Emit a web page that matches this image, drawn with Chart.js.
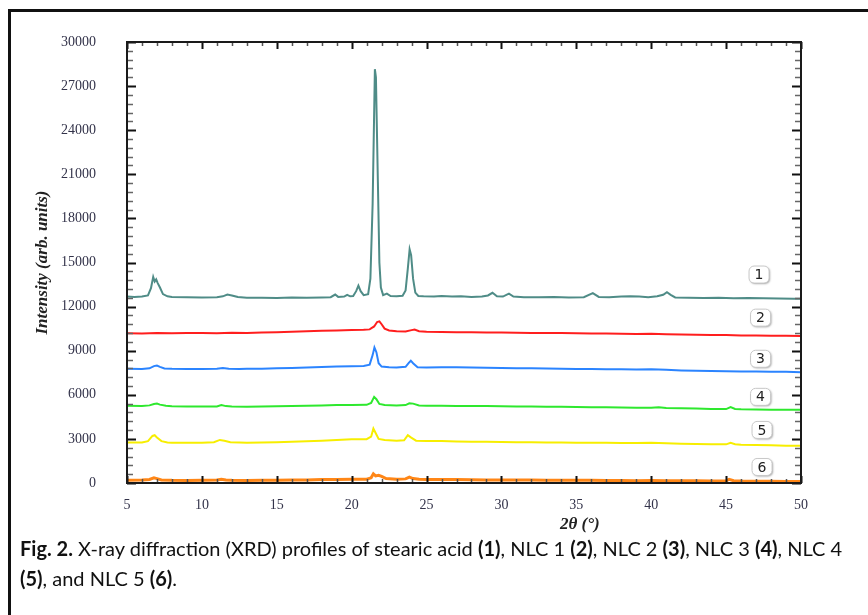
<!DOCTYPE html>
<html>
<head>
<meta charset="utf-8">
<script src="https://cdn.jsdelivr.net/npm/chart.js@4.4.1/dist/chart.umd.min.js"></script>
<style>
  html, body { margin: 0; padding: 0; background: #fff; overflow: hidden; }
  #frame { position: absolute; left: 8px; top: 9px; width: 880px; height: 640px; border-left: 3px solid #111; border-top: 3px solid #111; }
  #wrap { position: absolute; left: 0; top: 0; width: 868px; height: 615px; }
  #xtitle { position: absolute; left: 560px; top: 514px; font: italic bold 17px "Liberation Serif", serif; color: #222; }
  #caption { position: absolute; left: 20px; top: 533px; font: 20px Lato, sans-serif; line-height: 30px; color: #111; white-space: nowrap; }
</style>
</head>
<body>
<div id="frame"></div>
<div id="wrap"><canvas id="xrd"></canvas></div>
<div id="xtitle">2θ (°)</div>
<div id="caption"><b>Fig. 2.</b> X-ray diffraction (XRD) profiles of stearic acid <b>(1)</b>, NLC 1 <b>(2)</b>, NLC 2 <b>(3)</b>, NLC 3 <b>(4)</b>, NLC 4<br><b>(5)</b>, and NLC 5 <b>(6)</b>.</div>
<script>
// 2theta (deg) and intensity, one pair of arrays per sample
const angle1 = [5, 5.5, 6, 6.4, 6.6, 6.75, 6.85, 6.95, 7.05, 7.2, 7.4, 7.7, 8, 9, 10, 11, 11.4, 11.7, 12, 12.4, 13, 14, 15, 16, 17, 18, 18.6, 18.9, 19.1, 19.5, 19.7, 19.9, 20.1, 20.3, 20.45, 20.6, 20.8, 21.1, 21.25, 21.4, 21.55, 21.62, 21.75, 21.85, 21.95, 22.1, 22.35, 22.6, 23, 23.4, 23.6, 23.75, 23.87, 23.97, 24.1, 24.25, 24.45, 24.8, 25.5, 26, 26.7, 27.3, 28, 28.7, 29.1, 29.4, 29.7, 30.1, 30.5, 30.8, 31.5, 32.5, 33.5, 34.5, 35.5, 36.1, 36.5, 37.2, 38, 38.6, 39.2, 39.8, 40.4, 40.8, 41.05, 41.3, 41.6, 42.5, 43.5, 44.5, 45.5, 46.5, 47.5, 48.5, 49.5, 50];
const counts1 = [12680, 12650, 12690, 12760, 13250, 14020, 13700, 13850, 13600, 13300, 12850, 12700, 12660, 12640, 12620, 12640, 12700, 12820, 12760, 12650, 12600, 12610, 12590, 12620, 12600, 12620, 12640, 12820, 12660, 12680, 12800, 12700, 12720, 13050, 13420, 13050, 12780, 12850, 13900, 19000, 28150, 27600, 20500, 15000, 13300, 12780, 12880, 12720, 12700, 12740, 13100, 14600, 15900, 15500, 13900, 12950, 12720, 12700, 12680, 12720, 12690, 12700, 12660, 12680, 12760, 12940, 12700, 12680, 12880, 12680, 12640, 12630, 12650, 12620, 12640, 12920, 12660, 12640, 12680, 12700, 12690, 12640, 12700, 12800, 12980, 12800, 12620, 12600, 12590, 12600, 12570, 12580, 12560, 12550, 12540, 12530];

const angle2 = [5, 6, 7, 8, 9, 10, 11, 12, 13, 14, 15, 16, 17, 18, 19, 20, 20.8, 21.2, 21.5, 21.7, 21.85, 22.0, 22.2, 22.5, 23, 23.6, 24.0, 24.2, 24.5, 25, 26, 27, 28, 29, 30, 31, 32, 33, 34, 35, 36, 37, 38, 39, 40, 41, 42, 43, 44, 45, 46, 47, 48, 49, 50];
const counts2 = [10180, 10170, 10200, 10190, 10200, 10210, 10190, 10220, 10210, 10240, 10260, 10290, 10320, 10350, 10380, 10400, 10420, 10450, 10650, 10950, 11000, 10800, 10500, 10380, 10330, 10300, 10400, 10440, 10330, 10290, 10270, 10260, 10250, 10240, 10230, 10220, 10210, 10200, 10200, 10180, 10170, 10170, 10160, 10140, 10150, 10120, 10110, 10080, 10070, 10060, 10040, 10030, 10010, 10020, 10000];

const angle3 = [5, 6, 6.5, 6.8, 7, 7.2, 7.5, 8, 9, 10, 11, 11.4, 11.8, 12.5, 13, 14, 15, 16, 17, 18, 19, 20, 20.8, 21.2, 21.4, 21.52, 21.65, 21.8, 22.0, 22.5, 23, 23.6, 23.8, 23.95, 24.1, 24.4, 25, 26, 27, 28, 29, 30, 31, 32, 33, 34, 35, 36, 37, 38, 39, 40, 41, 42, 43, 44, 45, 46, 47, 48, 49, 50];
const counts3 = [7770, 7760, 7800, 7950, 7990, 7900, 7790, 7770, 7760, 7750, 7770, 7820, 7780, 7760, 7770, 7780, 7800, 7830, 7860, 7890, 7920, 7950, 7960, 8050, 8700, 9220, 8900, 8150, 7920, 7880, 7860, 7900, 8150, 8320, 8150, 7880, 7860, 7880, 7870, 7850, 7840, 7820, 7810, 7800, 7790, 7780, 7760, 7750, 7740, 7730, 7720, 7730, 7700, 7660, 7640, 7620, 7610, 7590, 7580, 7570, 7560, 7540];

const angle4 = [5, 6, 6.5, 6.8, 7, 7.2, 7.6, 8, 9, 10, 11, 11.3, 11.6, 12, 13, 14, 15, 16, 17, 18, 19, 20, 21, 21.3, 21.5, 21.65, 21.85, 22.2, 23, 23.6, 23.85, 24.1, 24.5, 25, 26, 27, 28, 29, 30, 31, 32, 33, 34, 35, 36, 37, 38, 39, 40, 40.5, 41, 42, 43, 44, 45, 45.3, 45.6, 46, 47, 48, 49, 50];
const counts4 = [5250, 5240, 5280, 5370, 5400, 5330, 5250, 5220, 5210, 5200, 5210, 5300, 5230, 5200, 5190, 5200, 5220, 5240, 5260, 5280, 5300, 5310, 5320, 5450, 5860, 5700, 5380, 5300, 5280, 5300, 5420, 5400, 5280, 5260, 5250, 5240, 5240, 5230, 5220, 5210, 5200, 5190, 5180, 5170, 5160, 5150, 5140, 5120, 5120, 5150, 5100, 5080, 5060, 5040, 5030, 5160, 5040, 5010, 5000, 4990, 4990, 4980];

const angle5 = [5, 6, 6.4, 6.7, 6.85, 7.0, 7.3, 7.7, 8, 9, 10, 10.8, 11.2, 11.5, 11.9, 12.5, 13, 14, 15, 16, 17, 18, 19, 20, 21, 21.3, 21.45, 21.6, 21.8, 22.2, 23, 23.5, 23.75, 23.95, 24.3, 25, 26, 27, 28, 29, 30, 31, 32, 33, 34, 35, 36, 37, 38, 39, 40, 41, 42, 43, 44, 45, 45.3, 45.6, 46, 47, 48, 49, 50];
const counts5 = [2750, 2760, 2850, 3200, 3250, 3100, 2850, 2760, 2740, 2730, 2740, 2780, 2930, 2880, 2770, 2750, 2740, 2760, 2780, 2810, 2840, 2880, 2920, 2970, 2980, 3150, 3700, 3400, 3000, 2920, 2880, 2900, 3250, 3100, 2880, 2860, 2850, 2830, 2810, 2800, 2790, 2780, 2770, 2760, 2760, 2740, 2740, 2730, 2720, 2720, 2730, 2700, 2670, 2650, 2640, 2630, 2740, 2640, 2610, 2580, 2560, 2540, 2530];

const angle6 = [5, 6, 6.5, 6.8, 7, 7.3, 8, 9, 10, 11, 11.3, 11.6, 12, 13, 14, 15, 16, 17, 18, 19, 20, 21, 21.3, 21.45, 21.6, 21.8, 22.0, 22.3, 23, 23.6, 23.85, 24.1, 24.5, 25, 26, 27, 28, 29, 30, 31, 32, 33, 34, 35, 36, 37, 38, 39, 40, 41, 42, 43, 44, 45, 45.2, 45.5, 46, 47, 48, 49, 50];
const counts6 = [180, 200, 240, 350, 300, 210, 180, 170, 180, 200, 260, 200, 180, 170, 180, 190, 200, 210, 230, 240, 250, 260, 350, 620, 480, 520, 450, 300, 260, 280, 400, 300, 250, 240, 230, 230, 220, 210, 210, 200, 200, 190, 190, 180, 180, 170, 170, 160, 170, 160, 150, 150, 140, 150, 250, 150, 130, 120, 120, 110, 110];

const sampleTags = ['1', '2', '3', '4', '5', '6'];
const colors = ['#4f8c87', '#ff1e1e', '#2b84ff', '#2ee82e', '#f7ee00', '#ff8616'];

const xTicks = [5, 10, 15, 20, 25, 30, 35, 40, 45, 50];
const yTicks = [0, 3000, 6000, 9000, 12000, 15000, 18000, 21000, 24000, 27000, 30000];

function pairs(xs, ys) {
  return xs.map((x, i) => ({ x: x, y: ys[i] }));
}

const series = [
  pairs(angle1, counts1), pairs(angle2, counts2), pairs(angle3, counts3),
  pairs(angle4, counts4), pairs(angle5, counts5), pairs(angle6, counts6)
];

// inward ticks on all four sides + box around plot
const frameTicks = {
  id: 'frameTicks',
  afterDatasetsDraw(chart) {
    const { ctx, chartArea: a, scales } = chart;
    const xs = scales.x, ys = scales.y;
    ctx.save();
    ctx.lineCap = 'butt';
    for (let v = 5; v <= 50; v += 1) {
      const px = Math.round(xs.getPixelForValue(v)) + 0.5;
      const major = v % 5 === 0;
      const len = major ? 7 : 4;
      ctx.strokeStyle = major ? '#111' : '#555';
      ctx.lineWidth = major ? 2 : 1.5;
      ctx.beginPath();
      ctx.moveTo(px, a.bottom); ctx.lineTo(px, a.bottom - len);
      ctx.moveTo(px, a.top); ctx.lineTo(px, a.top + len);
      ctx.stroke();
    }
    for (let v = 0; v <= 30000; v += 600) {
      const py = Math.round(ys.getPixelForValue(v)) + 0.5;
      const major = v % 3000 === 0;
      const len = major ? 9 : 6;
      ctx.strokeStyle = major ? '#111' : '#666';
      ctx.lineWidth = major ? 2 : 1.5;
      ctx.beginPath();
      ctx.moveTo(a.left, py); ctx.lineTo(a.left + len, py);
      ctx.moveTo(a.right, py); ctx.lineTo(a.right - len, py);
      ctx.stroke();
    }
    ctx.strokeStyle = '#1a1a1a';
    ctx.lineWidth = 2;
    ctx.strokeRect(a.left, a.top, a.right - a.left, a.bottom - a.top);
    ctx.restore();
  }
};

// numbered boxes next to each trace
const tagBoxes = {
  id: 'tagBoxes',
  afterDraw(chart, args, opts) {
    const { ctx, scales } = chart;
    ctx.save();
    opts.spots.forEach((s, i) => {
      const cx = scales.x.getPixelForValue(s[0]);
      const cy = scales.y.getPixelForValue(s[1]);
      const w = 20, h = 17;
      ctx.shadowColor = 'rgba(0,0,0,0.35)';
      ctx.shadowBlur = 2;
      ctx.shadowOffsetX = 1;
      ctx.shadowOffsetY = 1;
      ctx.fillStyle = '#fff';
      ctx.beginPath();
      ctx.roundRect(cx - w / 2, cy - h / 2, w, h, 5);
      ctx.fill();
      ctx.shadowColor = 'transparent';
      ctx.strokeStyle = '#c8c8c8';
      ctx.lineWidth = 1;
      ctx.stroke();
      ctx.fillStyle = '#222';
      ctx.font = '14px "DejaVu Sans", sans-serif';
      ctx.textAlign = 'center';
      ctx.textBaseline = 'middle';
      ctx.fillText(sampleTags[i], cx, cy + 1);
    });
    ctx.restore();
  }
};

const tickFont = { family: '"Liberation Serif", serif', size: 14 };

new Chart(document.getElementById('xrd'), {
  type: 'line',
  data: {
    datasets: series.map((pts, i) => ({
      label: sampleTags[i],
      data: pts,
      borderColor: colors[i],
      borderWidth: i === 5 ? 3 : 2,
      pointRadius: 0,
      tension: 0,
      fill: false
    }))
  },
  options: {
    responsive: true,
    maintainAspectRatio: false,
    animation: false,
    layout: { padding: { left: 0, top: 42, right: 67, bottom: 0 } },
    plugins: {
      legend: { display: false },
      tooltip: { enabled: false },
      tagBoxes: { spots: [[47.2, 14180], [47.3, 11250], [47.3, 8450], [47.3, 5860], [47.4, 3610], [47.4, 1090]] }
    },
    scales: {
      x: {
        type: 'linear',
        min: 5, max: 50,
        grid: { display: false, drawTicks: false },
        border: { display: false },
        afterBuildTicks: s => { s.ticks = xTicks.map(v => ({ value: v })); },
        afterFit: s => { s.height = 132; },
        ticks: { color: '#33334a', font: tickFont, padding: 14, maxRotation: 0, callback: v => String(v) }
      },
      y: {
        min: 0, max: 30000,
        grid: { display: false, drawTicks: false },
        border: { display: false },
        afterBuildTicks: s => { s.ticks = yTicks.map(v => ({ value: v })); },
        afterFit: s => { s.width = 127; },
        ticks: { color: '#33334a', font: tickFont, padding: 31, callback: v => String(v) },
        title: {
          display: true,
          text: 'Intensity (arb. units)',
          color: '#222',
          font: { family: '"Liberation Serif", serif', size: 17, style: 'italic', weight: 'bold' },
          padding: { top: 32 }
        }
      }
    }
  },
  plugins: [frameTicks, tagBoxes]
});
</script>
</body>
</html>
